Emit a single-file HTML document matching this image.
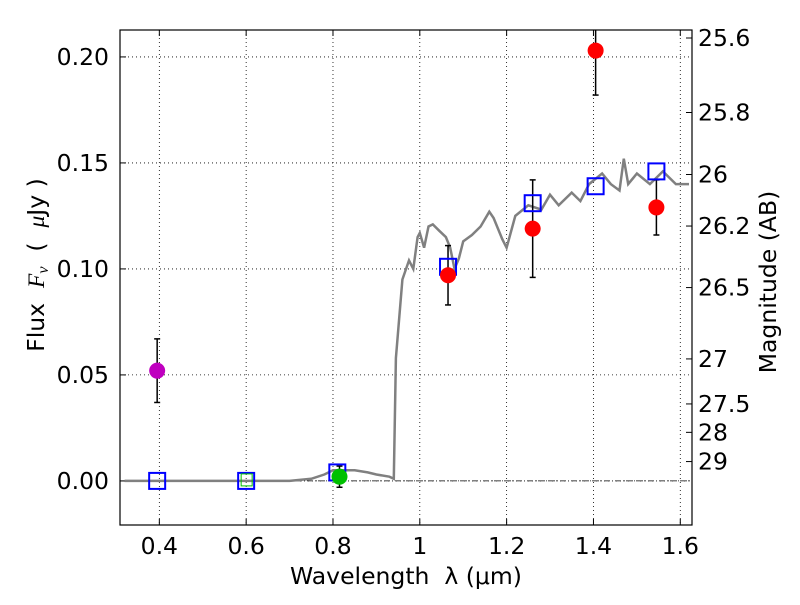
<!DOCTYPE html>
<html><head><meta charset="utf-8"><style>
body{margin:0;background:#fff;font-family:"Liberation Sans","DejaVu Sans",sans-serif;}
svg text{font-family:"DejaVu Sans","Liberation Sans",sans-serif;}
</style></head><body>
<svg id="chart" width="800" height="600" xmlns="http://www.w3.org/2000/svg"></svg>
<script>
const xTicks=[0.4,0.6,0.8,1.0,1.2,1.4,1.6];
const xTickLabels=["0.4","0.6","0.8","1","1.2","1.4","1.6"];
const yTicks=[0,0.05,0.1,0.15,0.2];
const yTickLabels=["0.00","0.05","0.10","0.15","0.20"];
const magTicks=[25.6,25.8,26,26.2,26.5,27,27.5,28,29];
const magTickLabels=["25.6","25.8","26","26.2","26.5","27","27.5","28","29"];
const specWave=[0.32,0.5,0.7,0.75,0.78,0.8,0.85,0.88,0.9,0.93,0.94,0.945,0.96,0.975,0.985,0.995,1.0,1.01,1.02,1.03,1.045,1.06,1.07,1.08,1.09,1.1,1.12,1.14,1.16,1.17,1.19,1.2,1.22,1.25,1.28,1.3,1.32,1.35,1.37,1.39,1.42,1.44,1.46,1.47,1.48,1.5,1.53,1.56,1.59,1.62];
const specFlux=[0,0,0,0.001,0.003,0.005,0.005,0.004,0.003,0.002,0.001,0.058,0.095,0.104,0.1,0.115,0.117,0.11,0.12,0.121,0.118,0.115,0.11,0.1,0.105,0.113,0.116,0.12,0.127,0.124,0.114,0.11,0.125,0.13,0.128,0.135,0.13,0.136,0.132,0.14,0.145,0.14,0.137,0.152,0.14,0.145,0.14,0.146,0.14,0.14];
const obsWave=[0.395,0.815,1.065,1.26,1.405,1.545];
const obsFlux=[0.052,0.002,0.097,0.119,0.203,0.129];
const obsErr=[0.015,0.005,0.014,0.023,0.021,0.013];
const obsColor=["#bf00bf","#00c000","#ff0000","#ff0000","#ff0000","#ff0000"];
const modelWave=[0.395,0.6,0.81,1.065,1.26,1.405,1.545];
const modelFlux=[0,0,0.004,0.101,0.131,0.139,0.146];
const limitWave=[0.6];
const limitFlux=[0];

const L=120,R=692,T=30,B=525,xmin=0.3094,xmax=1.627,ymin=-0.0208,ymax=0.2127;
const X=v=>L+(v-xmin)/(xmax-xmin)*(R-L);
const Y=v=>B-(v-ymin)/(ymax-ymin)*(B-T);
const svg=document.getElementById('chart');
const NS="http://www.w3.org/2000/svg";
function mk(tag,attrs,txt){const e=document.createElementNS(NS,tag);for(const k in attrs)e.setAttribute(k,attrs[k]);if(txt!==undefined)e.textContent=txt;svg.appendChild(e);return e;}
let e;
e=mk('defs',{});e.innerHTML='<clipPath id="clip"><rect x="'+L+'" y="'+T+'" width="'+(R-L)+'" height="'+(B-T)+'"/></clipPath>';
xTicks.forEach((t,i)=>{
 e=mk('line',{x1:X(t),x2:X(t),y1:T,y2:B,stroke:'#000','stroke-width':0.8,'stroke-dasharray':'1,3'});
 
 mk('line',{x1:X(t),x2:X(t),y1:B,y2:B-6,stroke:'#000'});mk('line',{x1:X(t),x2:X(t),y1:T,y2:T+6,stroke:'#000'});
 e=mk('text',{x:X(t),y:B+29,'text-anchor':'middle','font-size':23.5},xTickLabels[i]);
 
});
yTicks.forEach((t,i)=>{
 e=mk('line',{x1:L,x2:R,y1:Y(t),y2:Y(t),stroke:'#000','stroke-width':0.8,'stroke-dasharray':'1,3'});
 
 mk('line',{x1:L,x2:L+6,y1:Y(t),y2:Y(t),stroke:'#000'});
 e=mk('text',{x:L-11,y:Y(t)+8,'text-anchor':'end','font-size':23.5},yTickLabels[i]);
 
});
magTicks.forEach((m,i)=>{
 const f=Math.pow(10,(23.9-m)/2.5);const y=Y(f);
 mk('line',{x1:R,x2:R-6,y1:y,y2:y,stroke:'#000'});
 e=mk('text',{x:R+6,y:y+8,'font-size':23.5},magTickLabels[i]);
 
});
e=mk('line',{x1:L,x2:R,y1:Y(0),y2:Y(0),stroke:'#000','stroke-width':0.8,'stroke-dasharray':'6,2,1,2'});

let d=specWave.map((w,i)=>(i?'L':'M')+X(w).toFixed(1)+','+Y(specFlux[i]).toFixed(1)).join(' ');
e=mk('path',{d:d,fill:'none',stroke:'#808080','stroke-width':2.5,'clip-path':'url(#clip)'});

obsWave.forEach((w,i)=>{
 const x=X(w),y1=Y(obsFlux[i]-obsErr[i]),y2=Y(obsFlux[i]+obsErr[i]);
 e=mk('g',{'clip-path':'url(#clip)'});
 
 e.innerHTML=`<line x1="${x}" x2="${x}" y1="${y1}" y2="${y2}" stroke="#000" stroke-width="1.5"/><line x1="${x-3}" x2="${x+3}" y1="${y1}" y2="${y1}" stroke="#000" stroke-width="1.5"/><line x1="${x-3}" x2="${x+3}" y1="${y2}" y2="${y2}" stroke="#000" stroke-width="1.5"/>`;
});
modelWave.forEach((w,i)=>{
 e=mk('rect',{x:X(w)-8,y:Y(modelFlux[i])-8,width:16,height:16,fill:'none',stroke:'#0000ff','stroke-width':2});
 
});
limitWave.forEach((w,i)=>{
 e=mk('rect',{x:X(w)-5,y:Y(limitFlux[i])-7,width:11,height:12,fill:'none',stroke:'#00c000','stroke-width':1});
 
});
obsWave.forEach((w,i)=>{
 e=mk('circle',{cx:X(w),cy:Y(obsFlux[i]),r:8,fill:obsColor[i]});
 
});
e=mk('rect',{x:L,y:T,width:R-L,height:B-T,fill:'none',stroke:'#000','stroke-width':1.2});

e=mk('text',{x:406,y:584,'text-anchor':'middle','font-size':23.5},'Wavelength  λ (μm)');

e.setAttribute('xml:space','preserve');e.style.whiteSpace='pre';
e=mk('text',{x:44,y:265,'text-anchor':'middle','font-size':23.5,transform:'rotate(-90 44 265)'});
e.style.whiteSpace='pre';
e.innerHTML='Flux  <tspan font-style="italic" font-family="Liberation Serif, serif">F<tspan font-size="16" dy="4">ν</tspan></tspan><tspan dy="-4">  (  </tspan><tspan font-style="italic" font-family="Liberation Serif, serif">μ</tspan>Jy )';

e=mk('text',{x:776,y:282,'text-anchor':'middle','font-size':23.5,transform:'rotate(-90 776 282)'},'Magnitude (AB)');

</script>
</body></html>
